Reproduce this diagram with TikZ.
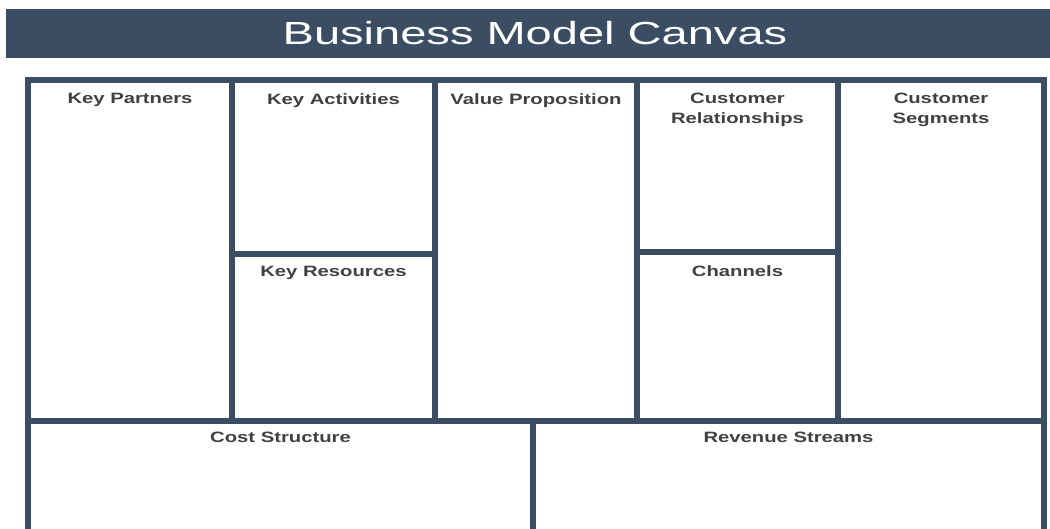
\documentclass[tikz,border=0pt]{standalone}
\usepackage{fontspec}
\usetikzlibrary{positioning}

\setmainfont{Liberation Sans}
\newfontfamily\widefont[FakeStretch=1.35]{Liberation Sans}
\newfontfamily\titlefont[FakeStretch=1.47]{Liberation Sans}

\definecolor{slate}{HTML}{3A4D62}
\definecolor{labelgrey}{HTML}{404040}

\tikzset{
  frame/.style={draw=slate, line width=6pt},
  blocklabel/.style={anchor=north, inner sep=0pt, align=center, text=labelgrey,
    font=\widefont\bfseries\fontsize{15}{20}\selectfont},
  titletext/.style={anchor=base, inner sep=0pt, text=white,
    font=\titlefont\fontsize{32}{36}\selectfont}
}

\begin{document}
\begin{tikzpicture}[x=1pt, y=-1pt]

\useasboundingbox (0,0) rectangle (1050,529);
\clip (0,0) rectangle (1050,529);

% title bar
\fill[slate] (6,9) rectangle (1050,58);
\node[titletext] (title) at (535,45) {Business Model Canvas};

% outer frame and the bottom row
\draw[frame] (28,80) rectangle (1044,570);
\draw[frame] (28,421) -- (1044,421);
\draw[frame] (533,421) -- (533,570);

% upper columns
\draw[frame] (232,80) -- (232,421);
\draw[frame] (435,80) -- (435,421);
\draw[frame] (637,80) -- (637,421);
\draw[frame] (838,80) -- (838,421);

% split cells
\draw[frame] (232,254) -- (435,254);
\draw[frame] (637,252) -- (838,252);

% labels
\node[blocklabel] (partners) at (130,93) {Key Partners};
\node[blocklabel] (activities) at (333.5,93) {Key Activities};
\node[blocklabel] (resources) at (333.5,266) {Key Resources};
\node[blocklabel] (value) at (536,93) {Value Proposition};
\node[blocklabel] (relations) at (737.5,93) {Customer\\Relationships};
\node[blocklabel] (channels) at (737.5,265) {Channels};
\node[blocklabel] (segments) at (941,93) {Customer\\Segments};
\node[blocklabel] (cost) at (280.5,432) {Cost Structure};
\node[blocklabel] (revenue) at (788.5,432) {Revenue Streams};

\end{tikzpicture}
\end{document}
